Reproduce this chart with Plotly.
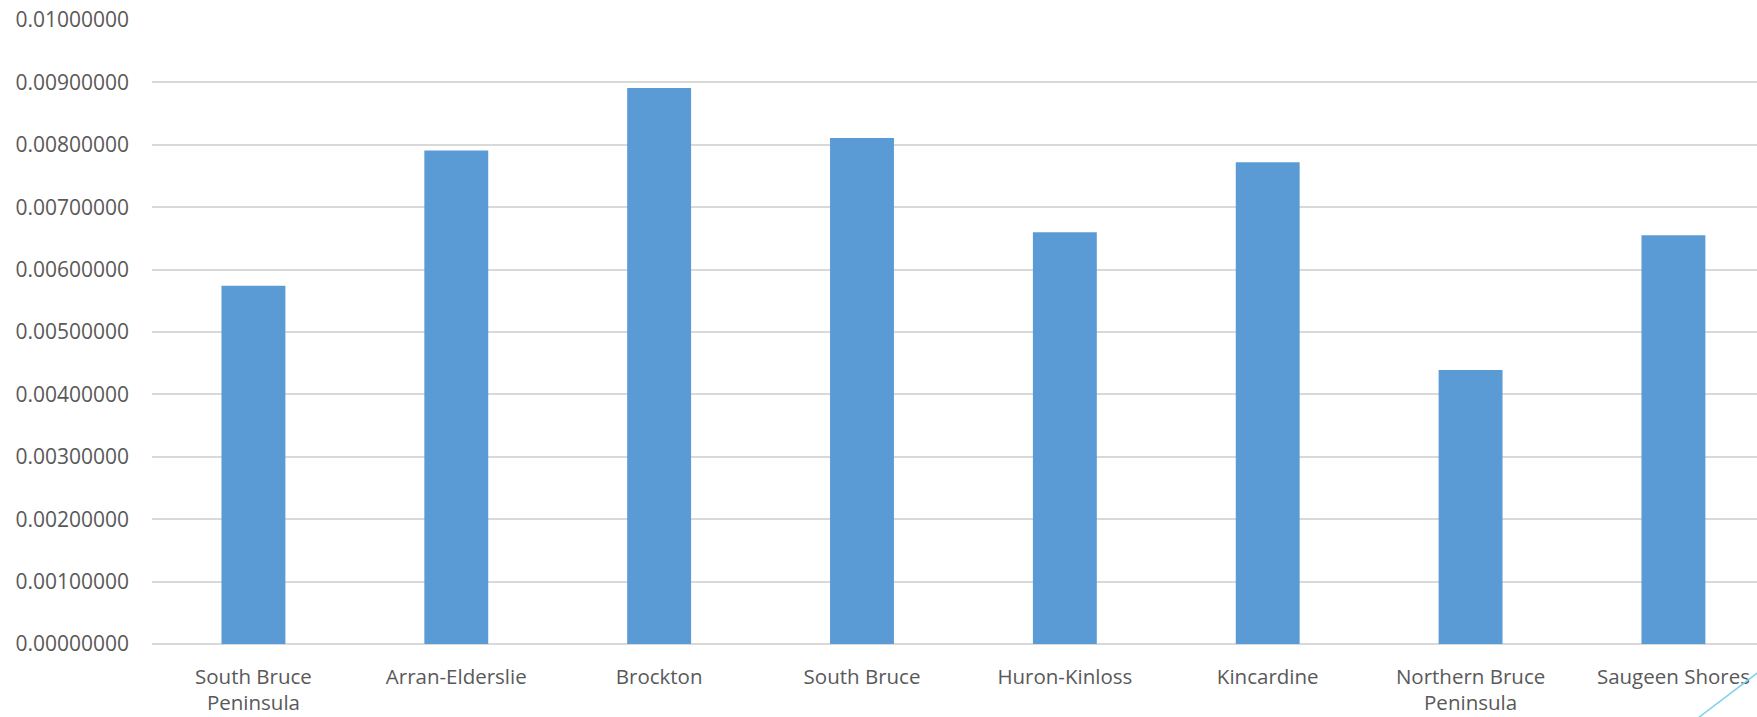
import plotly.graph_objects as go

categories = ["South Bruce<br>Peninsula", "Arran-Elderslie", "Brockton", "South Bruce",
              "Huron-Kinloss", "Kincardine", "Northern Bruce<br>Peninsula", "Saugeen Shores"]
values = [0.00574, 0.00791, 0.00891, 0.00811, 0.00660, 0.00772, 0.00439, 0.00655]
y_ticks = [0.000, 0.001, 0.002, 0.003, 0.004, 0.005, 0.006, 0.007, 0.008, 0.009, 0.010]

font_family = "Open Sans"
text_color = "#595959"

fig = go.Figure(go.Bar(
    x=categories, y=values,
    marker=dict(color="#5b9bd5", line=dict(width=0)),
    width=0.315,
))

fig.update_layout(
    width=1757, height=717,
    margin=dict(l=152, r=0, t=20, b=73),
    paper_bgcolor="white", plot_bgcolor="white",
    showlegend=False,
    font=dict(family=font_family, size=20, color=text_color),
    xaxis=dict(
        type="category",
        range=[-0.5, 7.412],
        showgrid=False, zeroline=False, showline=False,
        ticks="", tickfont=dict(size=20.5, color=text_color),
        ticklabelstandoff=18,
    ),
    yaxis=dict(
        range=[0, 0.01],
        tickvals=y_ticks,
        tickformat=".8f",
        showgrid=True, gridcolor="#d9d9d9", gridwidth=1.5,
        zeroline=True, zerolinecolor="#d9d9d9", zerolinewidth=1.5,
        showline=False, ticks="",
        tickfont=dict(size=21, color=text_color),
        ticklabelstandoff=22,
    ),
    shapes=[dict(type="line", xref="paper", yref="paper",
                 x0=(1698 - 152) / 1605, y0=(644 - 718) / 624,
                 x1=(1760 - 152) / 1605, y1=(644 - 671) / 624,
                 line=dict(color="#7fd0ef", width=1.5))],
)

fig.write_html("out.html")
